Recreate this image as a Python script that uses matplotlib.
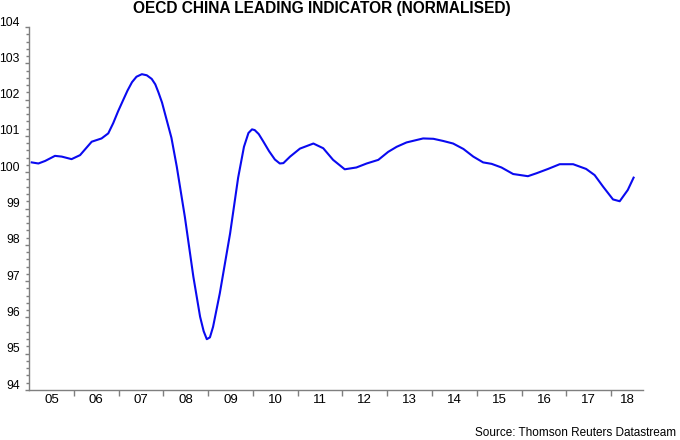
import matplotlib
matplotlib.use("Agg")
import matplotlib.pyplot as plt
import matplotlib.transforms as mtransforms
import numpy as np

# OECD China leading indicator (decimal year, index)
dates = [2005.06, 2005.21, 2005.36, 2005.58, 2005.73, 2005.95, 2006.14, 2006.40,
         2006.62, 2006.77, 2006.88, 2006.99, 2007.10, 2007.20, 2007.30, 2007.40,
         2007.52, 2007.63, 2007.74, 2007.82, 2007.89, 2007.97, 2008.05, 2008.18,
         2008.30, 2008.48, 2008.67, 2008.82, 2008.90, 2008.97, 2009.04, 2009.11,
         2009.26, 2009.49, 2009.67, 2009.80, 2009.90, 2009.98, 2010.04, 2010.13,
         2010.23, 2010.36, 2010.49, 2010.60, 2010.68, 2010.83, 2011.05, 2011.35,
         2011.57, 2011.79, 2012.05, 2012.31, 2012.54, 2012.80, 2013.02, 2013.21,
         2013.43, 2013.80, 2014.03, 2014.25, 2014.47, 2014.70, 2014.92, 2015.14,
         2015.33, 2015.55, 2015.81, 2016.14, 2016.33, 2016.59, 2016.85, 2017.15,
         2017.44, 2017.63, 2017.82, 2018.04, 2018.19, 2018.37, 2018.50]
values = [100.27, 100.24, 100.31, 100.45, 100.43, 100.36, 100.47, 100.84,
          100.93, 101.07, 101.35, 101.68, 101.98, 102.25, 102.48, 102.63,
          102.70, 102.67, 102.57, 102.42, 102.20, 101.92, 101.55, 100.95,
          100.15, 98.77, 97.12, 96.02, 95.62, 95.40, 95.45, 95.74,
          96.66, 98.31, 99.85, 100.70, 101.08, 101.18, 101.16, 101.05,
          100.85, 100.58, 100.35, 100.24, 100.25, 100.43, 100.65, 100.79,
          100.66, 100.34, 100.08, 100.13, 100.24, 100.34, 100.56, 100.70,
          100.82, 100.93, 100.92, 100.86, 100.79, 100.64, 100.43, 100.27,
          100.23, 100.13, 99.95, 99.89, 99.97, 100.09, 100.22, 100.22,
          100.09, 99.92, 99.60, 99.25, 99.20, 99.51, 99.85]

years = list(range(2005, 2019))
year_labels = [str(y)[2:] for y in years]
y_ticks = list(range(94, 105))

plt.rcParams['font.family'] = ['Liberation Sans', 'DejaVu Sans']

fig = plt.figure(figsize=(6.8, 4.4), dpi=100)
ax = fig.add_axes([29 / 680, 50 / 440, 614 / 680, 363 / 440])

ax.plot(dates, values, color='#0A0AF0', lw=1.5, solid_joinstyle='round')

ax.set_xlim(2005.0, 2018.71)
ax.set_ylim(94, 104)

for s in ['top', 'right']:
    ax.spines[s].set_visible(False)
for s in ['left', 'bottom']:
    ax.spines[s].set_color('#7f7f7f')
    ax.spines[s].set_linewidth(1.0)

# y axis: integer labels, minor ticks every 0.2
ax.set_yticks(y_ticks)
ax.set_yticklabels([str(v) for v in y_ticks], fontsize=8.8)
ax.set_yticks(np.arange(94, 104.01, 0.2), minor=True)
ax.tick_params(axis='y', which='major', length=3, width=1, color='#7f7f7f', pad=3.5)
ax.tick_params(axis='y', which='minor', length=2.5, width=1, color='#7f7f7f')
offset = mtransforms.ScaledTranslation(0, 6 / 100, fig.dpi_scale_trans)
for lab in ax.get_yticklabels():
    lab.set_transform(lab.get_transform() + offset)

# x axis: ticks at year boundaries, labels centred in each year
ax.set_xticks(years[1:])
ax.set_xticklabels([])
ax.tick_params(axis='x', which='major', length=4, width=1, color='#7f7f7f')
ax.set_xticks([y + 0.5 for y in years[:-1]] + [2018.37], minor=True)
ax.set_xticklabels(year_labels, minor=True, fontsize=9.5)
ax.tick_params(axis='x', which='minor', length=0, pad=3)

fig.text(322 / 680, 1 - 8 / 440, 'OECD CHINA LEADING INDICATOR (NORMALISED)',
         ha='center', va='center', fontsize=11.2, fontweight='bold')
fig.text(676 / 680, 1 - 433 / 440, 'Source: Thomson Reuters Datastream',
         ha='right', va='center', fontsize=8.5)

fig.savefig('out.png', dpi=100)
